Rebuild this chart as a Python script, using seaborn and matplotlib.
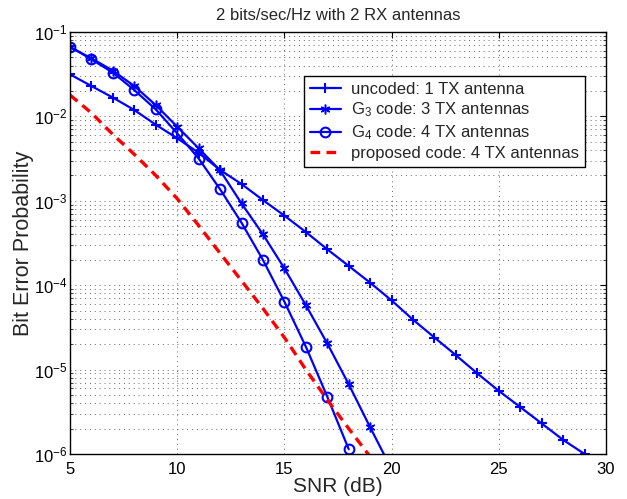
import numpy as np
import pandas as pd
import matplotlib
matplotlib.use("Agg")
import matplotlib.pyplot as plt
import seaborn as sns

# ---------------- data ----------------
snr_uncoded = list(range(5, 30))
ber_uncoded = [3.15e-2, 2.29e-2, 1.67e-2, 1.19e-2, 7.98e-3, 5.5e-3, 3.71e-3,
               2.32e-3, 1.58e-3, 1.02e-3, 6.67e-4, 4.27e-4, 2.66e-4, 1.69e-4,
               1.07e-4, 6.6e-5, 3.9e-5, 2.4e-5, 1.48e-5, 9.0e-6, 5.6e-6,
               3.6e-6, 2.3e-6, 1.47e-6, 1.0e-6]

snr_g3 = list(range(5, 21))
ber_g3 = [6.6e-2, 4.88e-2, 3.48e-2, 2.29e-2, 1.36e-2, 7.55e-3, 4.19e-3,
          2.29e-3, 9.3e-4, 4.0e-4, 1.58e-4, 5.8e-5, 2.04e-5, 6.7e-6,
          2.07e-6, 6.6e-7]

snr_g4 = list(range(5, 19))
ber_g4 = [6.7e-2, 4.75e-2, 3.3e-2, 2.05e-2, 1.21e-2, 6.3e-3, 3.17e-3,
          1.37e-3, 5.5e-4, 1.99e-4, 6.38e-5, 1.87e-5, 4.77e-6, 1.14e-6]

snr_prop = list(range(5, 20))
ber_prop = [1.79e-2, 1.10e-2, 6.1e-3, 3.55e-3, 2.0e-3, 1.06e-3, 5.1e-4,
            2.39e-4, 1.13e-4, 5.3e-5, 2.4e-5, 1.0e-5, 4.4e-6, 2.0e-6, 9.3e-7]

labels = ["uncoded: 1 TX antenna",
          r"G$_{\mathrm{3}}$ code: 3 TX antennas",
          r"G$_{\mathrm{4}}$ code: 4 TX antennas",
          "proposed code: 4 TX antennas"]
title = "2 bits/sec/Hz with 2 RX antennas"
xlabel = "SNR (dB)"
ylabel = "Bit Error Probability"
xticks = [5, 10, 15, 20, 25, 30]

# ---------------- style ----------------
sns.set_style("white")
plt.rcParams["font.family"] = ["Liberation Sans", "DejaVu Sans"]
plt.rcParams["mathtext.fontset"] = "custom"
plt.rcParams["mathtext.rm"] = "Liberation Sans"
plt.rcParams["mathtext.it"] = "Liberation Sans:italic"
plt.rcParams["mathtext.bf"] = "Liberation Sans:bold"

fig = plt.figure(figsize=(6.27, 4.99), dpi=100)
ax = fig.add_axes([70 / 627, 1 - 454 / 499, 536 / 627, 422 / 499])

blue = (0, 0, 1)
red = (1, 0, 0)

sns.lineplot(x=snr_uncoded, y=ber_uncoded, ax=ax, color=blue, lw=1.6,
             marker="+", markersize=7, markeredgewidth=1.5,
             markeredgecolor=blue, markerfacecolor=blue, label=labels[0])
sns.lineplot(x=snr_g3, y=ber_g3, ax=ax, color=blue, lw=1.6,
             marker=(6, 2, 0), markersize=7, markeredgewidth=1.1,
             markeredgecolor=blue, markerfacecolor=blue, label=labels[1])
sns.lineplot(x=snr_g4, y=ber_g4, ax=ax, color=blue, lw=1.6,
             marker="o", markersize=7, markerfacecolor="none",
             markeredgecolor=blue, markeredgewidth=1.5, label=labels[2])
sns.lineplot(x=snr_prop, y=ber_prop, ax=ax, color=red, lw=2.4,
             label=labels[3])
ax.lines[-1].set_dashes((2.9, 1.9))

ax.set_yscale("log")
ax.set_xlim(5, 30)
ax.set_ylim(1e-6, 1e-1)
ax.set_xticks(xticks)
ax.set_xticklabels([str(t) for t in xticks])

# grid (Matlab-like dotted)
ax.grid(True, which="major", axis="both", color="0.4", lw=0.7,
        linestyle=(0, (1, 4)))
ax.grid(True, which="minor", axis="y", color="0.4", lw=0.7,
        linestyle=(0, (1, 4)))
ax.set_axisbelow(True)

for s in ax.spines.values():
    s.set_color("black")
    s.set_linewidth(1.0)

ax.tick_params(axis="both", which="major", direction="in", length=4,
               width=0.8, top=True, right=True, labelsize=12, colors="black",
               pad=6)
ax.tick_params(axis="y", which="major", pad=2)
ax.tick_params(axis="y", which="minor", direction="in", length=2.5,
               width=0.6, left=True, right=True)

ax.set_title(title, fontsize=12, pad=9)
ax.set_xlabel(xlabel, fontsize=15, labelpad=0)
ax.set_ylabel(ylabel, fontsize=15.5, labelpad=0)

leg = ax.legend(loc="upper right", bbox_to_anchor=(0.961, 0.896),
                borderaxespad=0, fontsize=12, frameon=True, fancybox=False,
                framealpha=1, edgecolor="black", handlelength=1.9,
                handletextpad=0.6, labelspacing=0.24, borderpad=0.35)
leg.get_frame().set_linewidth(1.0)

fig.savefig("out.png", dpi=100)
